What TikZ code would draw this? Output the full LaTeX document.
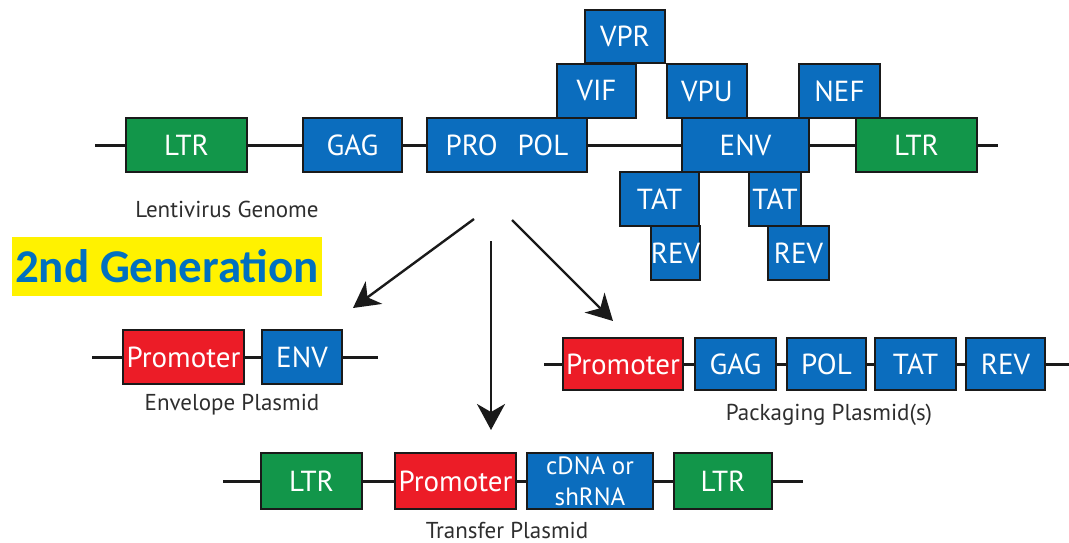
\documentclass[tikz,border=0pt]{standalone}
\usepackage{fontspec}
\setmainfont{PT Sans}
\newfontfamily\headfont{Carlito}
\usetikzlibrary{arrows.meta,positioning}
\definecolor{genegreen}{HTML}{12964A}
\definecolor{geneblue}{HTML}{0B6DBE}
\definecolor{genered}{HTML}{EC1C27}
\definecolor{headblue}{HTML}{0070C0}
\definecolor{boxline}{HTML}{1A1A1A}
\definecolor{captiongray}{HTML}{2E2E2E}

\begin{document}
\begin{tikzpicture}[x=1pt,y=-1pt,
	gene/.style={draw=boxline,line width=2pt,inner sep=0pt,text=white,
		font=\fontsize{29}{31}\selectfont,minimum height=54pt},
	ltr/.style={gene,fill=genegreen},
	cds/.style={gene,fill=geneblue},
	prom/.style={gene,fill=genered},
	dna/.style={draw=boxline,line width=3pt},
	plasmidcap/.style={text=captiongray,font=\fontsize{23}{25}\selectfont},
	route/.style={draw=boxline,line width=2.4pt,-{Stealth[length=26pt,width=28pt,inset=8pt]}}]
		\useasboundingbox (0,0) rectangle (1069,543);
		% lentivirus genome
		\node[ltr,minimum width=121pt] (ltrA) at (186.5,145) {LTR};
		\node[cds,minimum width=99pt] (gag) at (352.5,145) {GAG};
		\node[cds,minimum width=160pt] (propol) at (507,145) {PRO\hspace{20pt}POL};
		\node[cds,minimum width=127pt] (env) at (745.5,145) {ENV};
		\node[ltr,minimum width=121pt] (ltrB) at (916.5,145) {LTR};
		\node[cds,minimum width=80pt,minimum height=53pt] (vpr) at (625,36.5) {VPR};
		\node[cds,minimum width=79pt] (vif) at (596.5,91) {VIF};
		\node[cds,minimum width=80pt] (vpu) at (707,91) {VPU};
		\node[cds,minimum width=81pt] (nef) at (839.5,91) {NEF};
		\node[cds,minimum width=79pt] (tatA) at (659.5,199) {TAT};
		\node[cds,minimum width=49pt] (revA) at (675.5,253) {REV};
		\node[cds,minimum width=52pt] (tatB) at (775,199) {TAT};
		\node[cds,minimum width=61pt] (revB) at (798.5,253) {REV};
		\coordinate (gStart) at (95,145);
		\coordinate (gEnd) at (998,145);
		\draw[dna] (gStart) -- (ltrA.west) (ltrA.east) -- (gag.west) (gag.east) -- (propol.west)
			(propol.east) -- (env.west) (env.east) -- (ltrB.west) (ltrB.east) -- (gEnd);
		\node[plasmidcap] (genomeCap) at (227,209) {Lentivirus Genome};
		\node[fill=yellow,text=headblue,inner sep=0pt,minimum width=310pt,minimum height=59pt,
			font=\headfont\bfseries\fontsize{47}{50}\selectfont] (genLabel) at (167,266.5) {2nd Generation};
		% envelope plasmid
		\node[prom,minimum width=121pt] (promE) at (183.5,357) {Promoter};
		\node[cds,minimum width=80pt] (envE) at (302,357) {ENV};
		\coordinate (eStart) at (92,357);
		\coordinate (eEnd) at (378,357);
		\draw[dna] (eStart) -- (promE.west) (promE.east) -- (envE.west) (envE.east) -- (eEnd);
		\node[plasmidcap] (envCap) at (232,405) {Envelope Plasmid};
		% packaging plasmid
		\node[prom,minimum width=120pt,minimum height=52pt] (promP) at (623,364) {Promoter};
		\node[cds,minimum width=81pt,minimum height=52pt] (gagP) at (735.5,364) {GAG};
		\node[cds,minimum width=79pt,minimum height=52pt] (polP) at (826.5,364) {POL};
		\node[cds,minimum width=81pt,minimum height=52pt] (tatP) at (915.5,364) {TAT};
		\node[cds,minimum width=79pt,minimum height=52pt] (revP) at (1005.5,364) {REV};
		\coordinate (pStart) at (544,364);
		\coordinate (pEnd) at (1069,364);
		\draw[dna] (pStart) -- (promP.west) (promP.east) -- (gagP.west) (gagP.east) -- (polP.west)
			(polP.east) -- (tatP.west) (tatP.east) -- (revP.west) (revP.east) -- (pEnd);
		\node[plasmidcap] (packCap) at (829,415) {Packaging Plasmid(s)};
		% transfer plasmid
		\node[ltr,minimum width=101pt,minimum height=56pt] (ltrT) at (311.5,481) {LTR};
		\node[prom,minimum width=121pt,minimum height=56pt] (promT) at (455.5,481) {Promoter};
		\node[cds,minimum width=126pt,minimum height=56pt,align=center,
			font=\fontsize{25}{31}\selectfont] (cdnaT) at (590,481) {cDNA or\\shRNA};
		\node[ltr,minimum width=98pt,minimum height=56pt] (ltrU) at (723,481) {LTR};
		\coordinate (tStart) at (223,481);
		\coordinate (tEnd) at (803,481);
		\draw[dna] (tStart) -- (ltrT.west) (ltrT.east) -- (promT.west) (promT.east) -- (cdnaT.west)
			(cdnaT.east) -- (ltrU.west) (ltrU.east) -- (tEnd);
		\node[plasmidcap] (transCap) at (507,530) {Transfer Plasmid};
		% arrows
		\coordinate (fromL) at (474,219);
		\coordinate (toL) at (353,308);
		\coordinate (fromM) at (491,241);
		\coordinate (toM) at (491,430);
		\coordinate (fromR) at (512,220);
		\coordinate (toR) at (613,321);
		\draw[route] (fromL) -- (toL);
		\draw[route] (fromM) -- (toM);
		\draw[route] (fromR) -- (toR);
\end{tikzpicture}
\end{document}
